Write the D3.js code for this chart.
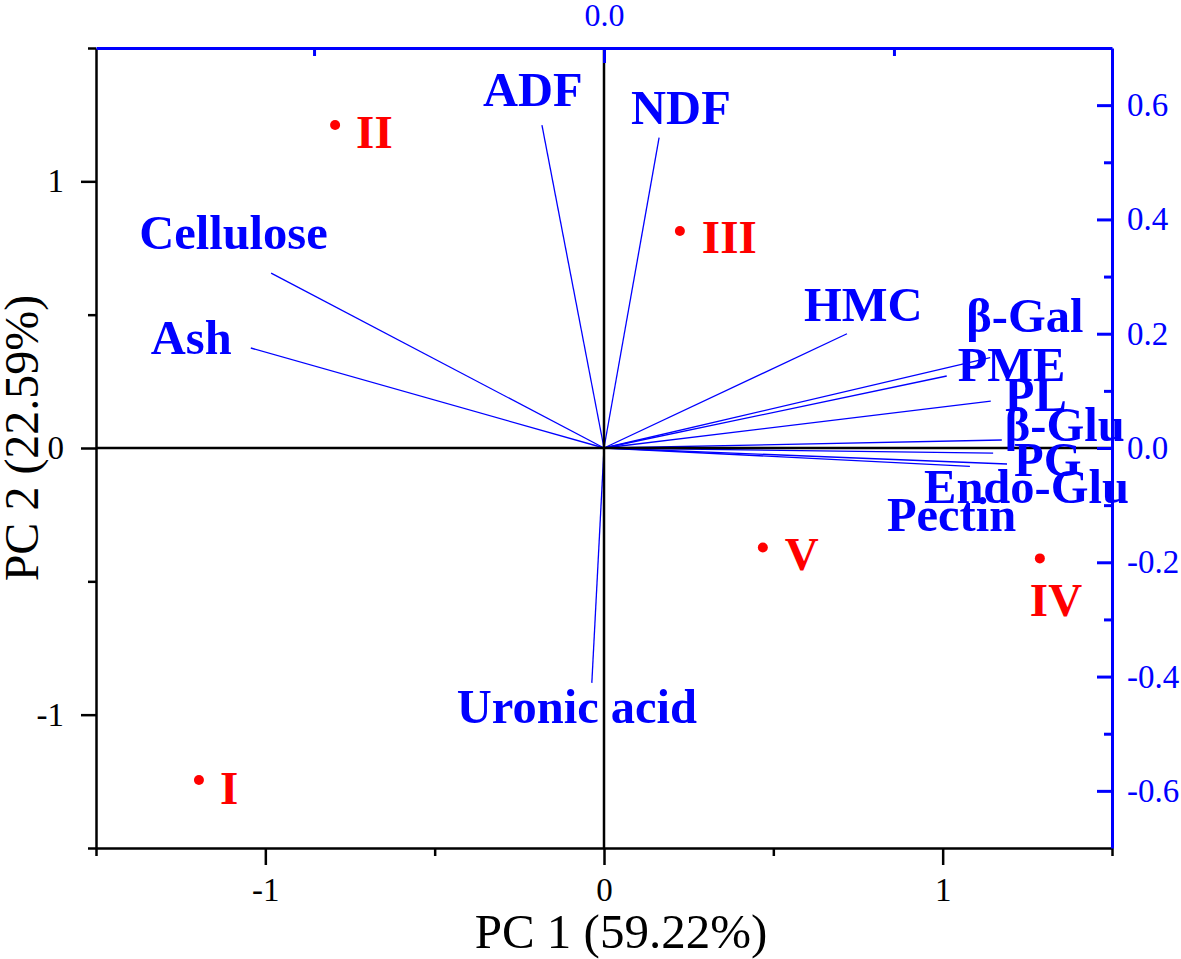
<!DOCTYPE html>
<html>
<head>
<meta charset="utf-8">
<script src="https://cdn.jsdelivr.net/npm/d3@7"></script>
<style>
  body { margin: 0; background: #fff; }
  svg text { font-family: "Liberation Serif", "Times New Roman", serif; }
</style>
</head>
<body>
<svg id="graph-svg" width="1181" height="959"></svg>
<script>
// sample scores (bottom / left axes)
const samples = ['I', 'II', 'III', 'IV', 'V']
const scorePC1 = [-1.196, -0.794, 0.224, 1.287, 0.469]
const scorePC2 = [-1.245, 1.211, 0.814, -0.414, -0.373]

// variable loadings (top / right axes)
const variables = ['ADF', 'NDF', 'Cellulose', 'Ash', 'HMC', 'β-Gal', 'PME',
    'PL', 'β-Glu', 'PG', 'Endo-Glu', 'Pectin', 'Uronic acid']
const loadPC1 = [-0.107, 0.095, -0.574, -0.609, 0.419, 0.666, 0.591,
    0.667, 0.686, 0.671, 0.695, 0.631, -0.021]
const loadPC2 = [0.565, 0.543, 0.306, 0.175, 0.200, 0.158, 0.126,
    0.082, 0.014, -0.009, -0.028, -0.032, -0.411]

// tick values
const scoreTicks = [-1, 0, 1]
const scoreMinor = [-1.5, -0.5, 0.5, 1.5]
const loadYTicks = [-0.6, -0.4, -0.2, 0, 0.2, 0.4, 0.6]
const loadYMinor = [-0.5, -0.3, -0.1, 0.1, 0.3, 0.5]
const loadXTicks = [0]
const loadXMinor = [-0.5, 0.5]

const xTitle = 'PC 1 (59.22%)'
const yTitle = 'PC 2 (22.59%)'

// label placement (pixel offsets from the mark, hand placed like the original)
const varLabelOffset = {
    'ADF': [-59, -19], 'NDF': [-28, -14], 'Cellulose': [-132, -24],
    'Ash': [-100, 6], 'HMC': [-43, -13], 'β-Gal': [-24, -26], 'PME': [11, 5],
    'PL': [14, 10], 'β-Glu': [3, 1], 'PG': [21, 23], 'Endo-Glu': [-83, 39],
    'Pectin': [-83, 65], 'Uronic acid': [-135, 40]
}
const sampleLabelOffset = { 'I': [21, 24], 'II': [21, 23], 'III': [22, 22], 'IV': [-10, 58], 'V': [22, 23] }

const BLUE = '#0000ff'
const RED = '#ff0000'
const plotLeft = 96, plotRight = 1112, plotTop = 48, plotBottom = 848

const x = d3.scaleLinear().domain([-1.5, 1.5]).range([plotLeft, plotRight])
const y = d3.scaleLinear().domain([-1.5, 1.5]).range([plotBottom, plotTop])
const xl = d3.scaleLinear().domain([-0.876, 0.876]).range([plotLeft, plotRight])
const yl = d3.scaleLinear().domain([-0.7, 0.7]).range([plotBottom, plotTop])

const svg = d3.select('#graph-svg')

const loads = variables.map((v, i) => ({ name: v, x: loadPC1[i], y: loadPC2[i] }))
const scores = samples.map((s, i) => ({ name: s, x: scorePC1[i], y: scorePC2[i] }))

// loading vectors
svg.append('g')
    .selectAll('line')
    .data(loads)
    .join('line')
    .attr('x1', xl(0)).attr('y1', yl(0))
    .attr('x2', d => xl(d.x)).attr('y2', d => yl(d.y))
    .attr('stroke', BLUE)
    .attr('stroke-width', 1.3)

// zero lines
svg.append('line')
    .attr('x1', plotLeft).attr('x2', plotRight)
    .attr('y1', y(0)).attr('y2', y(0))
    .attr('stroke', '#000').attr('stroke-width', 2.5)
svg.append('line')
    .attr('x1', x(0)).attr('x2', x(0))
    .attr('y1', plotTop).attr('y2', plotBottom)
    .attr('stroke', '#000').attr('stroke-width', 2.5)

function styleAxis(g, colour, width, size) {
    g.selectAll('path, line').attr('stroke', colour).attr('stroke-width', width)
    g.selectAll('text').attr('fill', colour).attr('font-size', size)
        .attr('font-family', '"Liberation Serif", "Times New Roman", serif')
}

// left axis
svg.append('g').attr('transform', `translate(${plotLeft},0)`)
    .call(d3.axisLeft(y).tickValues(scoreTicks).tickSize(15).tickSizeOuter(0)
        .tickPadding(17).tickFormat(d => String(d)))
    .call(g => styleAxis(g, '#000', 2.5, 33))
svg.append('g').attr('transform', `translate(${plotLeft},0)`)
    .call(d3.axisLeft(y).tickValues(scoreMinor).tickSize(8).tickSizeOuter(0).tickFormat(''))
    .call(g => g.select('.domain').remove())
    .call(g => styleAxis(g, '#000', 2.5, 33))

// bottom axis
svg.append('g').attr('transform', `translate(0,${plotBottom})`)
    .call(d3.axisBottom(x).tickValues(scoreTicks).tickSize(17).tickSizeOuter(0)
        .tickPadding(13).tickFormat(d => String(d)))
    .call(g => styleAxis(g, '#000', 2.5, 33))
svg.append('g').attr('transform', `translate(0,${plotBottom})`)
    .call(d3.axisBottom(x).tickValues(scoreMinor).tickSize(8).tickSizeOuter(0).tickFormat(''))
    .call(g => g.select('.domain').remove())
    .call(g => styleAxis(g, '#000', 2.5, 33))

// right axis (loadings)
svg.append('g').attr('transform', `translate(${plotRight},0)`)
    .call(d3.axisRight(yl).tickValues(loadYTicks).tickSize(-15).tickSizeOuter(0)
        .tickPadding(15).tickFormat(d => d.toFixed(1)))
    .call(g => styleAxis(g, BLUE, 3, 33))
svg.append('g').attr('transform', `translate(${plotRight},0)`)
    .call(d3.axisRight(yl).tickValues(loadYMinor).tickSize(-8).tickSizeOuter(0).tickFormat(''))
    .call(g => g.select('.domain').remove())
    .call(g => styleAxis(g, BLUE, 3, 33))

// top axis (loadings)
svg.append('g').attr('transform', `translate(0,${plotTop})`)
    .call(d3.axisTop(xl).tickValues(loadXTicks).tickSize(-15).tickSizeOuter(0)
        .tickPadding(22).tickFormat(d => d.toFixed(1)))
    .call(g => styleAxis(g, BLUE, 3, 32))
svg.append('g').attr('transform', `translate(0,${plotTop})`)
    .call(d3.axisTop(xl).tickValues(loadXMinor).tickSize(-8).tickSizeOuter(0).tickFormat(''))
    .call(g => g.select('.domain').remove())
    .call(g => styleAxis(g, BLUE, 3, 32))

// variable labels
svg.append('g')
    .selectAll('text')
    .data(loads)
    .join('text')
    .attr('x', d => xl(d.x) + varLabelOffset[d.name][0])
    .attr('y', d => yl(d.y) + varLabelOffset[d.name][1])
    .attr('fill', BLUE)
    .attr('font-size', 48.5)
    .attr('font-weight', 'bold')
    .text(d => d.name)

// sample points
svg.append('g')
    .selectAll('circle.point')
    .data(scores)
    .join('circle')
    .attr('class', 'point')
    .attr('cx', d => x(d.x))
    .attr('cy', d => y(d.y))
    .attr('r', 5)
    .attr('fill', RED)

svg.append('g')
    .selectAll('text')
    .data(scores)
    .join('text')
    .attr('x', d => x(d.x) + sampleLabelOffset[d.name][0])
    .attr('y', d => y(d.y) + sampleLabelOffset[d.name][1])
    .attr('fill', RED)
    .attr('font-size', 47)
    .attr('font-weight', 'bold')
    .text(d => d.name)

// axis titles
svg.append('text')
    .attr('x', 621)
    .attr('y', 948)
    .attr('text-anchor', 'middle')
    .attr('font-size', 49)
    .text(xTitle)

svg.append('text')
    .attr('transform', `translate(38,438) rotate(-90)`)
    .attr('text-anchor', 'middle')
    .attr('font-size', 48)
    .text(yTitle)
</script>
</body>
</html>
